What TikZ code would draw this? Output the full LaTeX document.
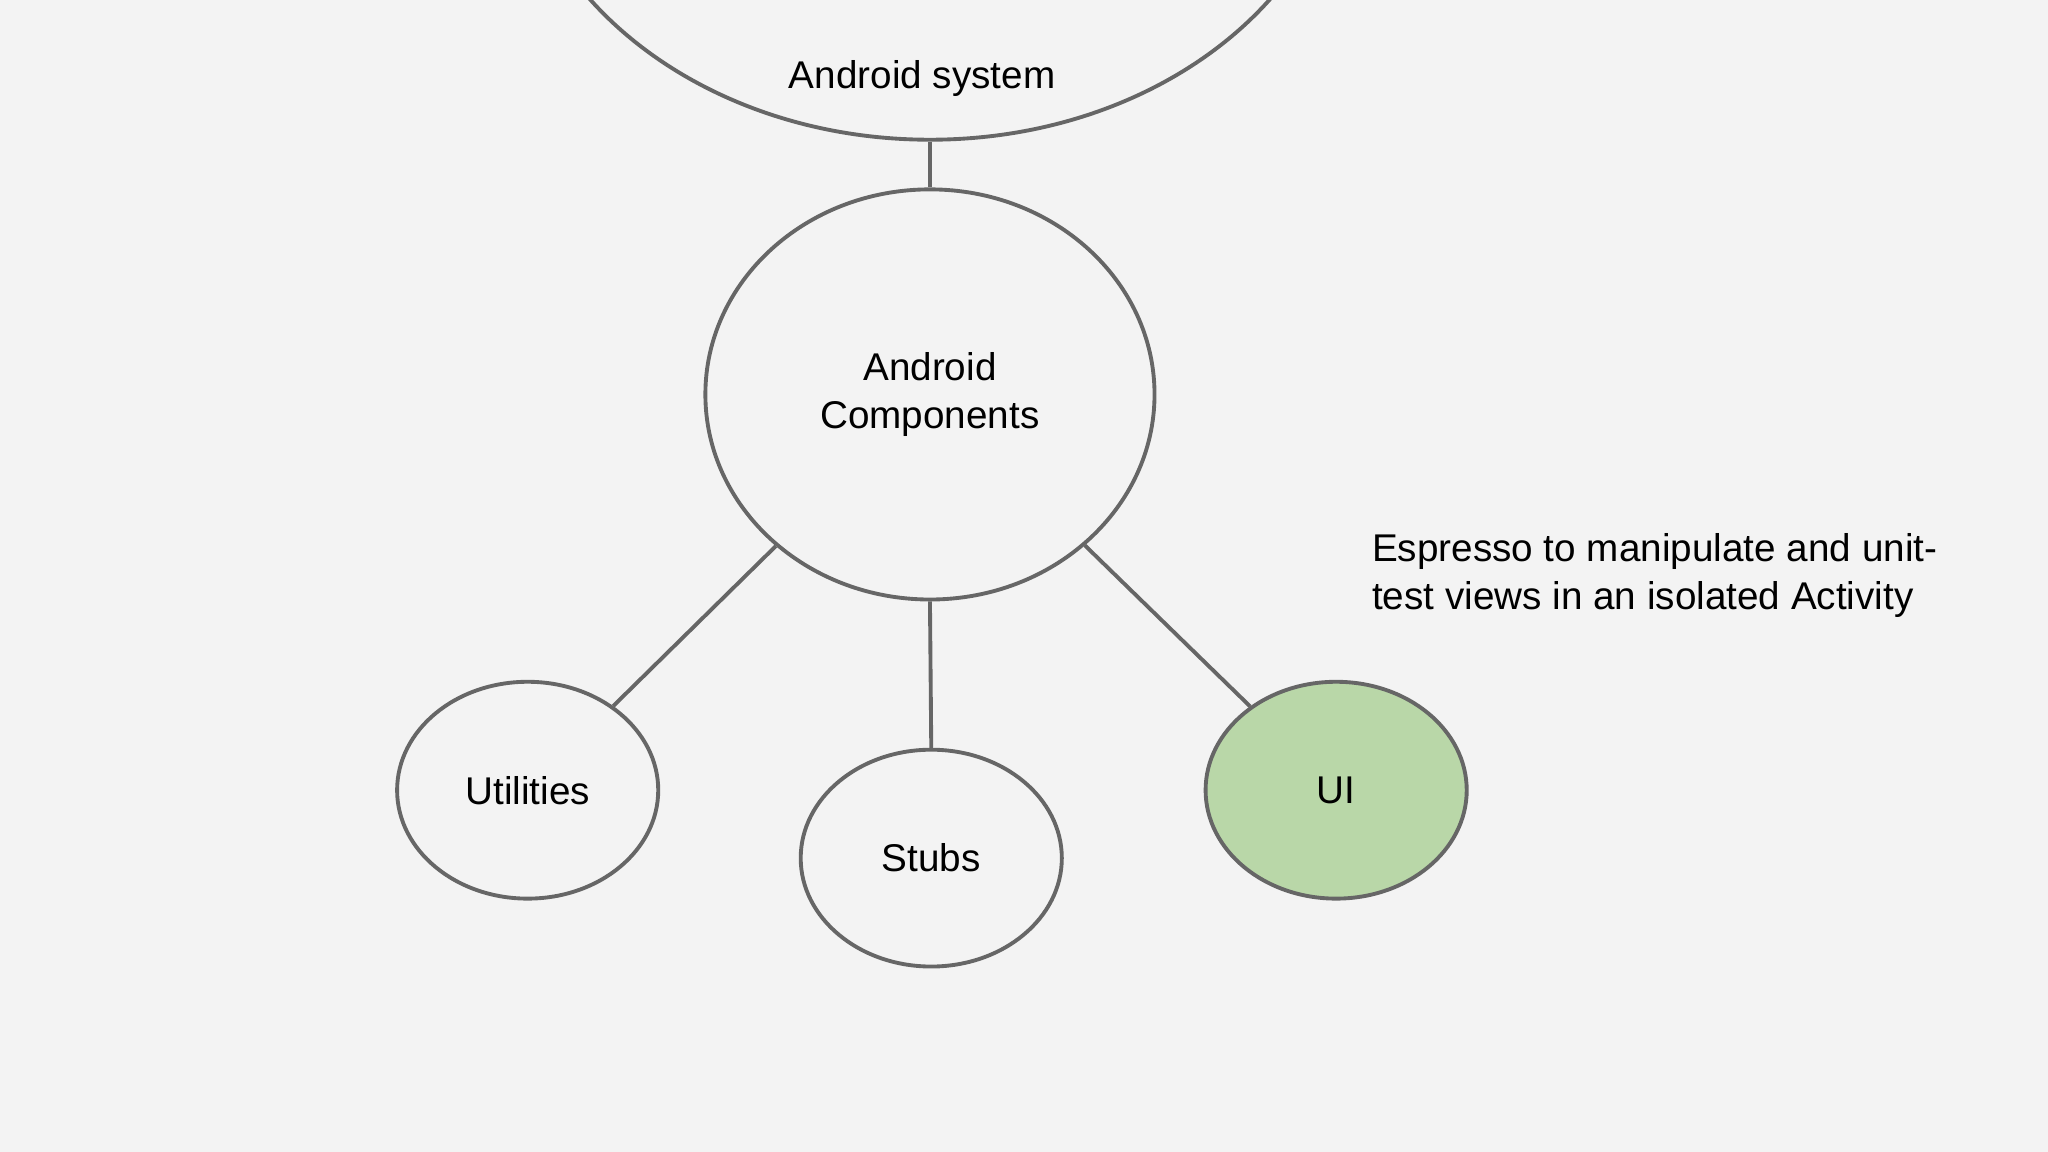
\documentclass[tikz,border=0pt]{standalone}
\usepackage{fontspec}
\setmainfont{Liberation Sans}
\usetikzlibrary{shapes.geometric}
\definecolor{bg}{HTML}{F3F3F3}
\definecolor{ln}{HTML}{666666}
\definecolor{gr}{HTML}{B9D7A8}
\begin{document}
\begin{tikzpicture}[x=0.0130612cm,y=-0.0130612cm,
  bub/.style={ellipse,draw=ln,line width=1.1pt,inner sep=0pt,align=center,font=\fontsize{11}{13.5}\selectfont},
  con/.style={draw=ln,line width=1.1pt}]
\fill[bg] (0,0) rectangle (1568,882);
\clip (0,0) rectangle (1568,882);
\node[bub,minimum width=237.8pt,minimum height=191pt] (sys) at (712,-150) {};
\node[font=\fontsize{11}{13.5}\selectfont] (syslbl) at (706,60) {Android system};
\node[bub,minimum width=127.8pt,minimum height=116.7pt] (comp) at (712,302) {Android\\Components};
\node[bub,minimum width=74.3pt,minimum height=61.7pt] (util) at (404,605) {Utilities};
\node[bub,minimum width=74.3pt,minimum height=61.7pt] (stub) at (713,657) {Stubs};
\node[bub,minimum width=74.3pt,minimum height=61.7pt,fill=gr] (ui) at (1023,605) {UI};
\node[anchor=north west,align=left,inner sep=0pt,font=\fontsize{11}{13.5}\selectfont] (esp) at (1050,408) {Espresso to manipulate and unit-\\test views in an isolated Activity};
\draw[con] (sys.south) -- (comp.north);
\draw[con] (comp) -- (util);
\draw[con] (comp.south) -- (stub.north);
\draw[con] (comp) -- (ui);
\end{tikzpicture}
\end{document}
